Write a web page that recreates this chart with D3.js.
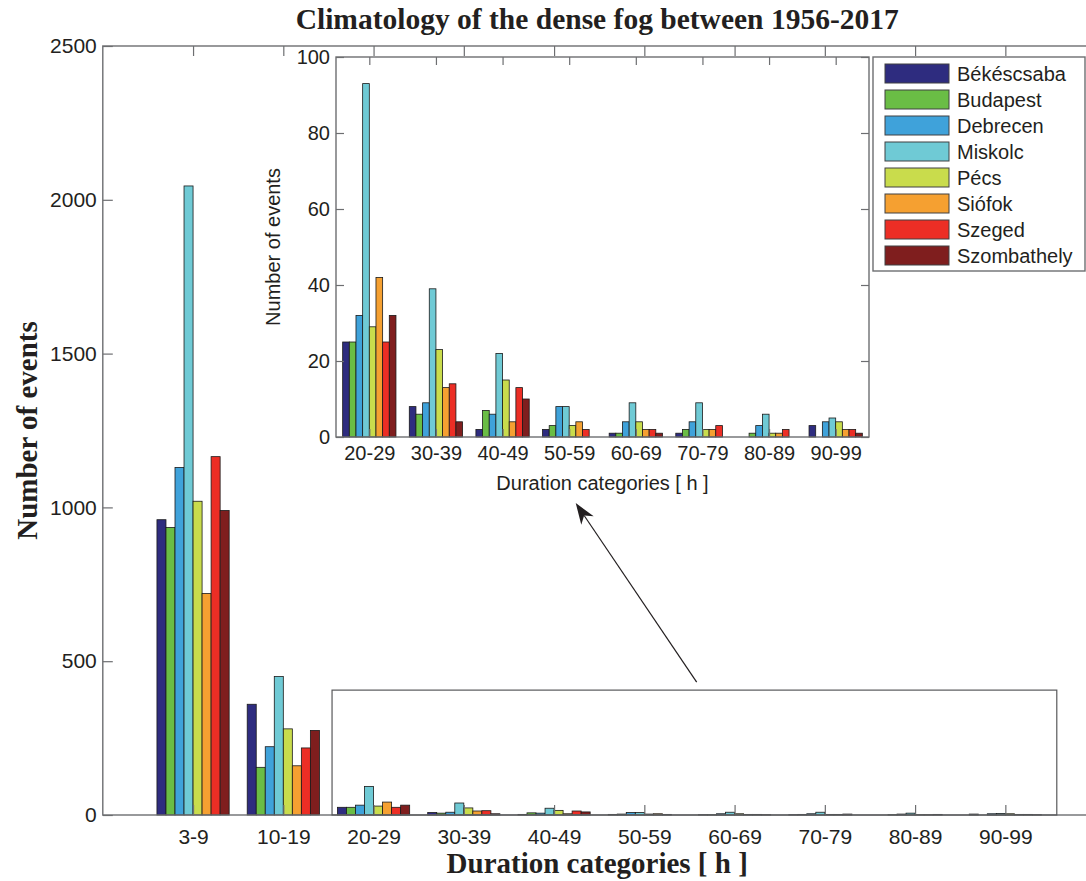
<!DOCTYPE html>
<html>
<head>
<meta charset="utf-8">
<script src="https://cdn.jsdelivr.net/npm/d3@7"></script>
<style>
  body { margin: 0; background: #fff; }
  text { fill: #231f20; }
</style>
</head>
<body>
<svg id="chart" width="1086" height="881"></svg>
<script>
// duration categories (hours)
const categories = ['3-9', '10-19', '20-29', '30-39', '40-49', '50-59', '60-69', '70-79', '80-89', '90-99'];
const stations = ['Békéscsaba', 'Budapest', 'Debrecen', 'Miskolc', 'Pécs', 'Siófok', 'Szeged', 'Szombathely'];
const colors = ['#2e2c7f', '#6abd45', '#3fa2da', '#6fcad5', '#c9dc4c', '#f5a031', '#ec2e25', '#7f1e1e'];

// number of events per category, one array per station
const bekescsaba  = [960, 360, 25, 8, 2, 2, 1, 1, 0, 3];
const budapest    = [935, 155, 25, 6, 7, 3, 1, 2, 1, 0];
const debrecen    = [1130, 222, 32, 9, 6, 8, 4, 4, 3, 4];
const miskolc     = [2045, 450, 93, 39, 22, 8, 9, 9, 6, 5];
const pecs        = [1020, 280, 29, 23, 15, 3, 4, 2, 1, 4];
const siofok      = [720, 160, 42, 13, 4, 4, 2, 2, 1, 2];
const szeged      = [1165, 218, 25, 14, 13, 2, 2, 3, 2, 2];
const szombathely = [990, 275, 32, 4, 10, 0, 1, 0, 0, 1];

const mainTicks = [0, 500, 1000, 1500, 2000, 2500];
const insetTicks = [0, 20, 40, 60, 80, 100];
const insetFrom = 2; // inset shows 20-29 .. 90-99

const series = [bekescsaba, budapest, debrecen, miskolc, pecs, siofok, szeged, szombathely];

const svg = d3.select('#chart');
const sans = '"Liberation Sans", Arial, sans-serif';
const serif = '"Liberation Serif", "Times New Roman", serif';
const axisColor = '#6d6e71';

/* grouped bars into g, x is linear in category index (1..n) */
let drawBars = (g, x, y, cats, offset) => {
  let groupW = 0.8, barW = groupW / stations.length;
  let rows = [];
  series.forEach((s, si) => {
    cats.forEach((c, ci) => {
      rows.push({si: si, ci: ci, v: s[ci + offset]});
    });
  });
  g.selectAll('rect.bar')
    .data(rows.filter(d => d.v > 0))
    .enter()
    .append('rect')
    .attr('class', 'bar')
    .attr('x', d => x(d.ci + 1 - groupW / 2 + d.si * barW))
    .attr('width', d => x(barW) - x(0))
    .attr('y', d => y(d.v))
    .attr('height', d => y(0) - y(d.v))
    .attr('fill', d => colors[d.si])
    .attr('stroke', '#1a1a1a')
    .attr('stroke-width', 0.8);
};

let styleAxis = (sel, size) => {
  sel.select('.domain').remove();
  sel.selectAll('.tick line').attr('stroke', axisColor).attr('stroke-width', 1.2);
  sel.selectAll('.tick text')
    .style('font-family', sans)
    .style('font-size', size + 'px')
    .attr('fill', '#231f20');
};

/* ---------- main axes ---------- */
const main = {left: 102.8, right: 1095.6, top: 46, bottom: 815};
const x = d3.scaleLinear().domain([0, categories.length + 1]).range([main.left, main.right]);
const y = d3.scaleLinear().domain([0, 2500]).range([main.bottom, main.top]);

const gMain = svg.append('g');
drawBars(gMain, x, y, categories, 0);

gMain.append('g')
  .attr('transform', `translate(${main.left},0)`)
  .call(d3.axisLeft(y).tickValues(mainTicks).tickFormat(d3.format('d'))
    .tickSize(-10).tickSizeOuter(0).tickPadding(6))
  .call(s => styleAxis(s, 21));

gMain.append('g')
  .attr('transform', `translate(0,${main.bottom})`)
  .call(d3.axisBottom(x).tickValues(d3.range(1, categories.length + 1))
    .tickFormat(i => categories[i - 1]).tickSize(-10).tickSizeOuter(0).tickPadding(14))
  .call(s => styleAxis(s, 21));

gMain.append('g')
  .attr('transform', `translate(0,${main.top})`)
  .call(d3.axisTop(x).tickValues(d3.range(1, categories.length + 1))
    .tickFormat('').tickSize(-10).tickSizeOuter(0))
  .call(s => styleAxis(s, 21));

gMain.append('rect')
  .attr('x', main.left).attr('y', main.top)
  .attr('width', main.right - main.left).attr('height', main.bottom - main.top)
  .attr('fill', 'none').attr('stroke', axisColor).attr('stroke-width', 1.4);

// zoom region box and arrow (in data units of the main axes)
const zoomBox = {x0: 2.54, x1: 10.57, y0: 0, y1: 406};
gMain.append('rect')
  .attr('x', x(zoomBox.x0)).attr('y', y(zoomBox.y1))
  .attr('width', x(zoomBox.x1) - x(zoomBox.x0))
  .attr('height', y(zoomBox.y0) - y(zoomBox.y1))
  .attr('fill', 'none').attr('stroke', '#58595b').attr('stroke-width', 1.2);

const arrowFrom = [6.58, 432], arrowTo = [5.24, 1014];
(() => {
  let x1 = x(arrowFrom[0]), y1 = y(arrowFrom[1]), x2 = x(arrowTo[0]), y2 = y(arrowTo[1]);
  let ang = Math.atan2(y2 - y1, x2 - x1);
  let L = 21, W = 7.5, notch = 15;
  let bx = x2 - Math.cos(ang) * L, by = y2 - Math.sin(ang) * L;
  let nx = x2 - Math.cos(ang) * notch, ny = y2 - Math.sin(ang) * notch;
  let px = -Math.sin(ang), py = Math.cos(ang);
  gMain.append('line')
    .attr('x1', x1).attr('y1', y1).attr('x2', nx).attr('y2', ny)
    .attr('stroke', '#231f20').attr('stroke-width', 1.2);
  gMain.append('path')
    .attr('d', `M${x2},${y2}L${bx + px * W},${by + py * W}L${nx},${ny}L${bx - px * W},${by - py * W}Z`)
    .attr('fill', '#231f20');
})();

svg.append('text')
  .attr('x', (main.left + main.right) / 2 - 2).attr('y', 29)
  .attr('text-anchor', 'middle')
  .style('font-family', serif).style('font-weight', 'bold').style('font-size', '29.5px')
  .text('Climatology of the dense fog between 1956-2017');

svg.append('text')
  .attr('transform', `translate(37,${(main.top + main.bottom) / 2}) rotate(-90)`)
  .attr('text-anchor', 'middle')
  .style('font-family', serif).style('font-weight', 'bold').style('font-size', '29px')
  .text('Number of events');

svg.append('text')
  .attr('x', (main.left + main.right) / 2 - 2).attr('y', 873)
  .attr('text-anchor', 'middle')
  .style('font-family', serif).style('font-weight', 'bold').style('font-size', '29px')
  .text('Duration categories [ h ]');

/* ---------- inset ---------- */
const inset = {left: 336, right: 869, top: 57, bottom: 437};
const insetCats = categories.slice(insetFrom);
const xi = d3.scaleLinear().domain([0.5, insetCats.length + 0.5]).range([inset.left, inset.right]);
const yi = d3.scaleLinear().domain([0, 100]).range([inset.bottom, inset.top]);

const gIn = svg.append('g');
gIn.append('rect')
  .attr('x', inset.left).attr('y', inset.top)
  .attr('width', inset.right - inset.left).attr('height', inset.bottom - inset.top)
  .attr('fill', '#fff');

drawBars(gIn, xi, yi, insetCats, insetFrom);

gIn.append('g')
  .attr('transform', `translate(${inset.left},0)`)
  .call(d3.axisLeft(yi).tickValues(insetTicks).tickSize(-8).tickSizeOuter(0).tickPadding(6))
  .call(s => styleAxis(s, 20));

gIn.append('g')
  .attr('transform', `translate(${inset.right},0)`)
  .call(d3.axisRight(yi).tickValues(insetTicks).tickFormat('').tickSize(-8).tickSizeOuter(0))
  .call(s => styleAxis(s, 20));

gIn.append('g')
  .attr('transform', `translate(0,${inset.bottom})`)
  .call(d3.axisBottom(xi).tickValues(d3.range(1, insetCats.length + 1))
    .tickFormat(i => insetCats[i - 1]).tickSize(-8).tickSizeOuter(0).tickPadding(9))
  .call(s => styleAxis(s, 20));

gIn.append('g')
  .attr('transform', `translate(0,${inset.top})`)
  .call(d3.axisTop(xi).tickValues(d3.range(1, insetCats.length + 1))
    .tickFormat('').tickSize(-8).tickSizeOuter(0))
  .call(s => styleAxis(s, 20));

gIn.append('rect')
  .attr('x', inset.left).attr('y', inset.top)
  .attr('width', inset.right - inset.left).attr('height', inset.bottom - inset.top)
  .attr('fill', 'none').attr('stroke', axisColor).attr('stroke-width', 1.4);

svg.append('text')
  .attr('transform', `translate(280,${(inset.top + inset.bottom) / 2}) rotate(-90)`)
  .attr('text-anchor', 'middle')
  .style('font-family', sans).style('font-size', '20px')
  .text('Number of events');

svg.append('text')
  .attr('x', (inset.left + inset.right) / 2).attr('y', 490)
  .attr('text-anchor', 'middle')
  .style('font-family', sans).style('font-size', '20px')
  .text('Duration categories [ h ]');

/* ---------- legend ---------- */
const legend = {left: 873, top: 57, width: 212, height: 214, pitch: 26};
const gLeg = svg.append('g');
gLeg.append('rect')
  .attr('x', legend.left).attr('y', legend.top)
  .attr('width', legend.width).attr('height', legend.height)
  .attr('fill', '#fff').attr('stroke', axisColor).attr('stroke-width', 1.4);

let items = gLeg.selectAll('g.item')
  .data(stations)
  .enter()
  .append('g')
  .attr('class', 'item')
  .attr('transform', (d, i) => `translate(${legend.left + 12},${legend.top + 7 + i * legend.pitch})`);

items.append('rect')
  .attr('width', 64).attr('height', 19)
  .attr('fill', (d, i) => colors[i])
  .attr('stroke', '#414042').attr('stroke-width', 1);

items.append('text')
  .attr('x', 72).attr('y', 17)
  .style('font-family', sans).style('font-size', '20px')
  .text(d => d);
</script>
</body>
</html>
